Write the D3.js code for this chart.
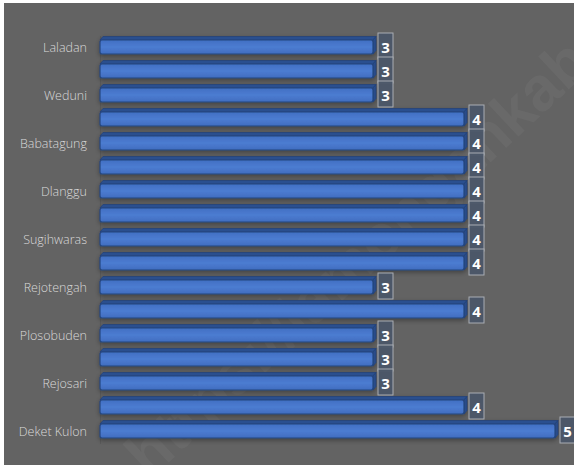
<!DOCTYPE html>
<html><head><meta charset="utf-8">
<script src="https://cdn.jsdelivr.net/npm/d3@7"></script>
<style>html,body{margin:0;padding:0;background:#fff;}svg{display:block;}</style>
</head><body>
<script>
// top to bottom; unlabeled rows left blank (names not readable in source)
const categories = ["Laladan","","Weduni","","Babatagung","","Dlanggu","","Sugihwaras","","Rejotengah","","Plosobuden","","Rejosari","","Deket Kulon"];
const values = [3,3,3,4,4,4,4,4,4,4,3,4,3,3,3,4,5];
const xMax = 5;

const W = 574, H = 465;
const svg = d3.select("body").append("svg").attr("width", W).attr("height", H);
const defs = svg.append("defs");
const g1 = defs.append("linearGradient").attr("id","front").attr("x1",0).attr("y1",0).attr("x2",0).attr("y2",1);
g1.append("stop").attr("offset","0%").attr("stop-color","#416fc3");
g1.append("stop").attr("offset","50%").attr("stop-color","#4c7cd1");
g1.append("stop").attr("offset","100%").attr("stop-color","#406dbf");
const sh = defs.append("filter").attr("id","sh").attr("x","-20%").attr("y","-50%").attr("width","140%").attr("height","200%");
sh.append("feGaussianBlur").attr("in","SourceAlpha").attr("stdDeviation",2.5).attr("result","b");
sh.append("feOffset").attr("dx",0).attr("dy",2).attr("result","o");
sh.append("feComponentTransfer").append("feFuncA").attr("type","linear").attr("slope",0.35);
const m = sh.append("feMerge"); m.append("feMergeNode"); m.append("feMergeNode").attr("in","SourceGraphic");

svg.append("rect").attr("x",0).attr("y",0).attr("width",W).attr("height",H).attr("fill","#ffffff");
svg.append("rect").attr("x",4).attr("y",3).attr("width",W-4).attr("height",H-3).attr("fill","#636363");

// watermark
svg.append("text").attr("transform","translate(150,480) rotate(-43)")
  .attr("font-family","Liberation Sans, Arial, sans-serif").attr("font-size",62).attr("font-weight","bold")
  .attr("fill","#ffffff").attr("fill-opacity",0.045).text("https://lamongankab.bps.go.id");

const idx = d3.range(categories.length);
const y = d3.scaleBand().domain(idx).range([33, 33 + 24*categories.length]).padding(0);
const x = d3.scaleLinear().domain([0, xMax]).range([100, 100 + 91*xMax]);

const axis = d3.axisLeft(y).tickSize(0).tickPadding(13).tickFormat(i => categories[i]);
const ax = svg.append("g").attr("transform","translate(100,2.5)").call(axis);
ax.select(".domain").attr("stroke","#5a5a5a").attr("stroke-width",1);
ax.selectAll("text").attr("fill","#d9d9d9").attr("font-family","Open Sans, sans-serif").attr("font-size",12.5).attr("font-weight",300);

const bars = svg.append("g").selectAll("g").data(values).join("g").attr("filter","url(#sh)");
const d = 3, th = 3.5, fh = 14;
bars.each(function(v,i){
  const gg = d3.select(this);
  const x0 = x(0), xe = x(v);
  const ft = y(i) + 7, fb = ft + fh;
  gg.append("path").attr("d",`M${x0},${ft} L${x0+d},${ft-th} L${xe+d},${ft-th} L${xe},${ft} Z`)
    .attr("fill","#2c4f8f").attr("stroke","#23427a").attr("stroke-width",0.8);
  gg.append("path").attr("d",`M${xe},${ft} L${xe+d},${ft-th} L${xe+d},${fb-th} L${xe},${fb} Z`)
    .attr("fill","#2a4c8a").attr("stroke","#23427a").attr("stroke-width",0.8);
  gg.append("rect").attr("x",x0).attr("y",ft).attr("width",xe-x0).attr("height",fh).attr("rx",2)
    .attr("fill","url(#front)").attr("stroke","#24467f").attr("stroke-width",1.2);
});

const labels = svg.append("g").selectAll("g").data(values).join("g")
  .attr("transform",(v,i)=>`translate(${x(v)+5},${y(i)})`);
labels.append("rect").attr("x",0).attr("y",0).attr("width",15).attr("height",26)
  .attr("fill","#4b5668").attr("fill-opacity",0.95).attr("stroke","#a9adb3").attr("stroke-width",1);
labels.append("text").attr("x",7.5).attr("y",19.5).attr("text-anchor","middle")
  .attr("fill","#ffffff").attr("font-family","Open Sans, sans-serif").attr("font-weight","bold").attr("font-size",15)
  .text(v=>v);
</script>
</body></html>
